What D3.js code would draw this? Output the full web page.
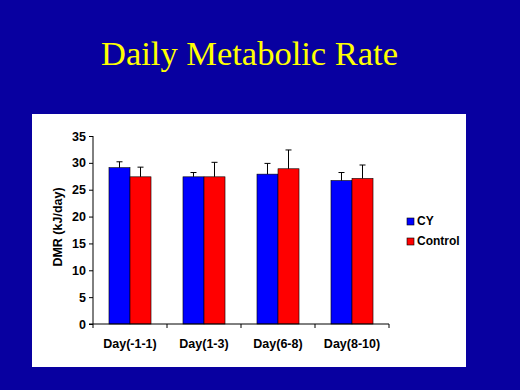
<!DOCTYPE html>
<html><head><meta charset="utf-8">
<script src="https://cdn.jsdelivr.net/npm/d3@7"></script>
<style>html,body{margin:0;padding:0;background:#0800A0;}svg{display:block;}</style>
</head><body>
<svg id="c" width="520" height="390"></svg>
<script>
const categories = ["Day(-1-1)", "Day(1-3)", "Day(6-8)", "Day(8-10)"];
const seriesNames = ["CY", "Control"];
const cyValues = [29.1, 27.4, 27.9, 26.7];
const cyErrors = [1.1, 0.8, 2.0, 1.5];
const controlValues = [27.4, 27.4, 28.9, 27.1];
const controlErrors = [1.8, 2.7, 3.5, 2.5];
const yTicks = [0, 5, 10, 15, 20, 25, 30, 35];
const colors = ["#0000FF", "#FF0000"];

const svg = d3.select("#c");
svg.append("rect").attr("width", 520).attr("height", 390).attr("fill", "#0800A0");
svg.append("text").attr("x", 249.5).attr("y", 65).attr("text-anchor", "middle")
  .attr("font-family", "Liberation Serif, Times New Roman, serif").attr("font-size", 34.5)
  .attr("fill", "#FFFF00").text("Daily Metabolic Rate");

svg.append("rect").attr("x", 32).attr("y", 114).attr("width", 434).attr("height", 253).attr("fill", "#FFFFFF");

const x0 = d3.scaleBand().domain(categories).range([93, 389]).paddingInner(0.432).paddingOuter(0.216);
const x1 = d3.scaleBand().domain(seriesNames).range([0, x0.bandwidth()]);
const y = d3.scaleLinear().domain([0, 35]).range([324, 136]);

const data = categories.map((c, i) => ({
  cat: c,
  vals: [{s: "CY", v: cyValues[i], e: cyErrors[i]}, {s: "Control", v: controlValues[i], e: controlErrors[i]}]
}));

const font = "Liberation Sans, Arial, sans-serif";
const g = svg.append("g");
const groups = g.selectAll("g.grp").data(data).enter().append("g")
  .attr("transform", d => `translate(${x0(d.cat)},0)`);
groups.selectAll("rect").data(d => d.vals).enter().append("rect")
  .attr("x", d => x1(d.s)).attr("y", d => y(d.v))
  .attr("width", x1.bandwidth()).attr("height", d => y(0) - y(d.v))
  .attr("fill", (d, i) => colors[i]).attr("stroke", "#000").attr("stroke-width", 0.6);
groups.selectAll("line.err").data(d => d.vals).enter().append("line")
  .attr("x1", d => x1(d.s) + x1.bandwidth() / 2).attr("x2", d => x1(d.s) + x1.bandwidth() / 2)
  .attr("y1", d => y(d.v)).attr("y2", d => y(d.v + d.e)).attr("stroke", "#000").attr("stroke-width", 1);
groups.selectAll("line.cap").data(d => d.vals).enter().append("line")
  .attr("x1", d => x1(d.s) + x1.bandwidth() / 2 - 3).attr("x2", d => x1(d.s) + x1.bandwidth() / 2 + 3)
  .attr("y1", d => y(d.v + d.e)).attr("y2", d => y(d.v + d.e)).attr("stroke", "#000").attr("stroke-width", 1);

const yAxis = svg.append("g").attr("transform", "translate(93,0)")
  .call(d3.axisLeft(y).tickValues(yTicks).tickSize(4).tickPadding(3));
yAxis.selectAll("text").attr("font-family", font).attr("font-weight", "bold")
  .attr("font-size", 12.5).attr("fill", "#000");
yAxis.select(".domain").attr("d", "M0,324V136");
yAxis.selectAll("line").attr("stroke", "#000");

const xAxis = svg.append("g").attr("transform", "translate(0,324)");
xAxis.append("line").attr("x1", 89).attr("x2", 389).attr("y1", 0).attr("y2", 0).attr("stroke", "#000");
xAxis.selectAll("line.tk").data(categories.concat(["end"])).enter().append("line")
  .attr("x1", (d, i) => i < categories.length ? x0(d) - x0.step() * x0.paddingInner() / 2 : 389)
  .attr("x2", (d, i) => i < categories.length ? x0(d) - x0.step() * x0.paddingInner() / 2 : 389)
  .attr("y1", 0).attr("y2", 4).attr("stroke", "#000");
xAxis.selectAll("text").data(categories).enter().append("text")
  .attr("x", d => x0(d) + x0.bandwidth() / 2).attr("y", 23.5).attr("text-anchor", "middle")
  .attr("font-family", font).attr("font-weight", "bold")
  .attr("font-size", 12.5).attr("fill", "#000").text(d => d);

svg.append("text").attr("transform", "translate(62,227) rotate(-90)").attr("text-anchor", "middle")
  .attr("font-family", font).attr("font-weight", "bold")
  .attr("font-size", 12.5).attr("fill", "#000").text("DMR (kJ/day)");

const leg = svg.append("g").attr("transform", "translate(407,217)");
seriesNames.forEach((s, i) => {
  leg.append("rect").attr("x", 0).attr("y", i * 20 + 1).attr("width", 7).attr("height", 7)
    .attr("fill", colors[i]).attr("stroke", "#000").attr("stroke-width", 0.6);
  leg.append("text").attr("x", 10).attr("y", i * 20 + 7.5)
    .attr("font-family", font).attr("font-weight", "bold").attr("font-size", 12)
    .attr("fill", "#000").text(s);
});
</script>
</body></html>
